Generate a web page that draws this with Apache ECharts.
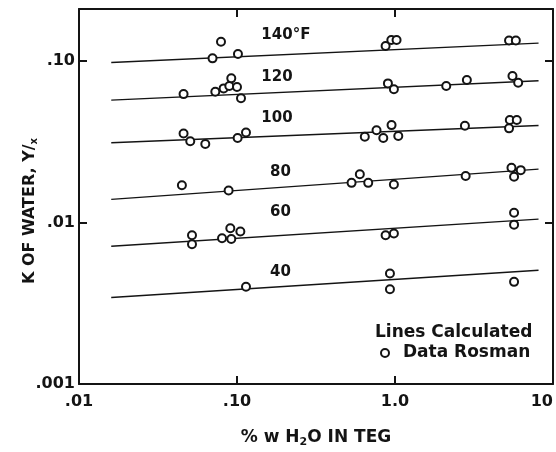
<!DOCTYPE html>
<html><head><meta charset="utf-8">
<script src="https://cdn.jsdelivr.net/npm/echarts@6/dist/echarts.min.js"></script>
<style>html,body{margin:0;padding:0;background:#fff}#c{width:556px;height:452px}</style>
</head><body><div id="c"></div>
<script>
// ---- tick labels ----
const xTickLabels = {'-2': '.01', '-1': '.10', '0': '1.0', '1': '10'};
const yTickLabels = {'-3': '.001', '-2': '.01', '-1': '.10'};

// ---- calculated lines (two end points each, x = % w H2O) ----
const lineX = [0.016, 8.1];
const line140 = [0.098, 0.129];
const line120 = [0.0573, 0.0755];
const line100 = [0.0312, 0.0399];
const line80 = [0.0139, 0.0214];
const line60 = [0.00713, 0.0105];
const line40 = [0.00343, 0.00506];

// ---- temperature labels ----
const tempNames = ['140°F', '120', '100', '80', '60', '40'];
const tempLabelX = [0.1426, 0.1426, 0.1426, 0.162, 0.162, 0.162];
const tempLabelY = [0.145, 0.0796, 0.0443, 0.0205, 0.0116, 0.0049];

// ---- Rosman data points [x, K] ----
const pts140 = [[0.070, 0.1039], [0.0792, 0.1317], [0.1014, 0.1105], [0.872, 0.1239], [0.948, 0.135], [1.023, 0.135], [5.27, 0.134], [5.82, 0.134]];
const pts120 = [[0.0459, 0.0624], [0.0729, 0.0645], [0.0823, 0.0677], [0.0894, 0.0700], [0.0920, 0.0781], [0.1000, 0.0690], [0.1060, 0.0588],
                [0.902, 0.0727], [0.984, 0.0668], [2.11, 0.0700], [2.85, 0.0763], [5.54, 0.0807], [6.02, 0.0734]];
const pts100 = [[0.0459, 0.0356], [0.0506, 0.0319], [0.0630, 0.0306], [0.1009, 0.0334], [0.1140, 0.0361],
                [0.644, 0.0340], [0.764, 0.0373], [0.843, 0.0334], [0.951, 0.0401], [1.049, 0.0343],
                [2.77, 0.0397], [5.27, 0.0383], [5.33, 0.0431], [5.90, 0.0431]];
const pts80 = [[0.0448, 0.0170], [0.0885, 0.0158], [0.531, 0.0176], [0.599, 0.0199], [0.677, 0.0176], [0.984, 0.0172],
               [2.80, 0.0194], [5.46, 0.0218], [5.67, 0.0192], [6.25, 0.0211]];
const pts60 = [[0.0519, 0.00834], [0.0519, 0.00733], [0.0804, 0.0080], [0.0907, 0.00922], [0.0920, 0.0079], [0.105, 0.0088],
               [0.872, 0.00834], [0.984, 0.00855], [5.67, 0.0115], [5.67, 0.0097]];
const pts40 = [[0.114, 0.0040], [0.929, 0.00483], [0.929, 0.00386], [5.67, 0.00429]];

const INK = '#141414';
const FONT = 'DejaVu Sans';

function decadeLabel(map) {
  return function (v) {
    const l = Math.log10(v);
    const e = Math.round(l);
    if (Math.abs(l - e) > 1e-6) return '';
    return map[e] !== undefined ? map[e] : '';
  };
}

function axisBase(extra) {
  return Object.assign({
    type: 'log', logBase: 10,
    axisLine: {show: true, onZero: false, lineStyle: {color: INK, width: 2}},
    axisTick: {show: true, inside: true, length: 8, lineStyle: {color: INK, width: 2}},
    minorTick: {show: false}, splitLine: {show: false}, minorSplitLine: {show: false}
  }, extra);
}

const lines = [line140, line120, line100, line80, line60, line40];
const lineSeries = lines.map(function (ys) {
  return {
    type: 'line', xAxisIndex: 0, yAxisIndex: 0, symbol: 'none', silent: true,
    lineStyle: {color: INK, width: 1.4},
    data: lineX.map(function (x, i) { return [x, ys[i]]; }),
    z: 2
  };
});

const allPts = [].concat(pts140, pts120, pts100, pts80, pts60, pts40);

const chart = echarts.init(document.getElementById('c'), null, {renderer: 'canvas'});
chart.setOption({
  animation: false,
  backgroundColor: '#fff',
  grid: {left: 79, top: 9, width: 474, height: 375, containLabel: false, outerBoundsMode: 'none'},
  xAxis: [
    axisBase({position: 'bottom', min: 0.01, max: 10,
      axisLabel: {show: true, margin: 10, color: INK, fontFamily: FONT, fontWeight: 'bold', fontSize: 16,
        formatter: decadeLabel(xTickLabels), showMinLabel: true, showMaxLabel: true, hideOverlap: false,
        alignMaxLabel: 'right'}}),
    axisBase({position: 'top', min: 0.01, max: 10, axisLabel: {show: false}})
  ],
  yAxis: [
    axisBase({position: 'left', min: 0.001, max: 0.21,
      axisLabel: {show: true, margin: 4, color: INK, fontFamily: FONT, fontWeight: 'bold', fontSize: 16,
        formatter: decadeLabel(yTickLabels)}}),
    axisBase({position: 'right', min: 0.001, max: 0.21, axisLabel: {show: false}})
  ],
  series: lineSeries.concat([
    {
      type: 'scatter', xAxisIndex: 0, yAxisIndex: 0, silent: true,
      symbol: 'circle', symbolSize: 8,
      itemStyle: {color: '#fff', borderColor: INK, borderWidth: 2, opacity: 1},
      data: allPts, z: 3
    },
    {
      type: 'scatter', xAxisIndex: 0, yAxisIndex: 0, silent: true,
      symbolSize: 0,
      itemStyle: {opacity: 1},
      label: {show: true, position: [0, 0], align: 'left', verticalAlign: 'middle',
        color: INK, fontFamily: FONT, fontWeight: 'bold', fontSize: 15, opacity: 1,
        formatter: function (p) { return p.name; }},
      data: tempNames.map(function (n, i) { return {name: n, value: [tempLabelX[i], tempLabelY[i]]}; }),
      z: 4
    }
  ]),
  graphic: [
    {type: 'text', x: 30, y: 211, rotation: Math.PI / 2, silent: true,
      style: {text: 'K OF WATER, Y/{s|x}', fill: INK, font: 'bold 16px "DejaVu Sans"',
        align: 'center', verticalAlign: 'middle',
        rich: {s: {font: 'bold 10px "DejaVu Sans"', fill: INK, padding: [8, 0, 0, 0]}}}},
    {type: 'text', x: 316, y: 438, silent: true,
      style: {text: '% w H{s|2}O IN TEG', fill: INK, font: 'bold 17px "DejaVu Sans"',
        align: 'center', verticalAlign: 'middle',
        rich: {s: {font: 'bold 11px "DejaVu Sans"', fill: INK, padding: [8, 0, 0, 0]}}}},
    {type: 'text', x: 375, y: 333, silent: true,
      style: {text: 'Lines Calculated', fill: INK, font: 'bold 17px "DejaVu Sans"', align: 'left', verticalAlign: 'middle'}},
    {type: 'circle', shape: {cx: 385, cy: 353, r: 4}, silent: true,
      style: {fill: '#fff', stroke: INK, lineWidth: 2}},
    {type: 'text', x: 403, y: 353, silent: true,
      style: {text: 'Data Rosman', fill: INK, font: 'bold 17px "DejaVu Sans"', align: 'left', verticalAlign: 'middle'}}
  ]
});
</script>
</body></html>
